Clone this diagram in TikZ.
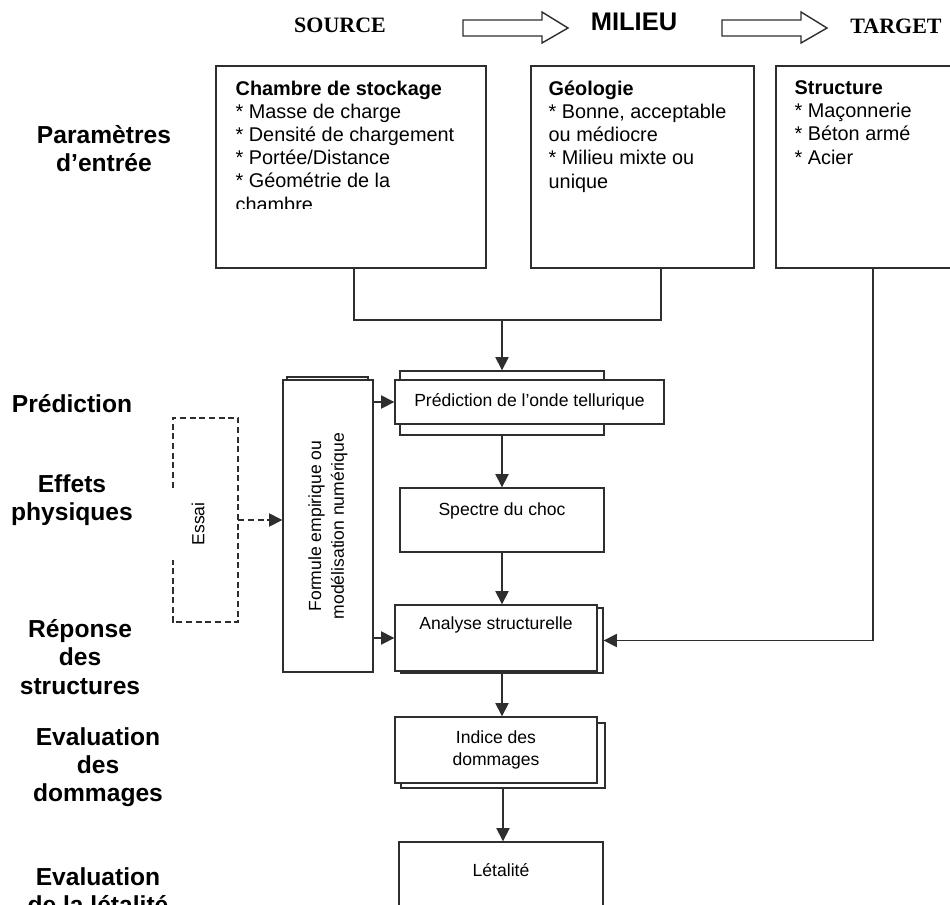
\documentclass[tikz,border=0pt]{standalone}
\usepackage{fontspec}
\setmainfont{Liberation Sans}
\newfontfamily\headserif{Liberation Serif}
\usetikzlibrary{arrows.meta,calc,positioning}
\colorlet{flowLine}{black!82}
\tikzset{
  flowbox/.style={
    rectangle, draw=flowLine, fill=white, line width=0.8pt,
    align=center, font=\fontsize{10}{12.5}\selectfont, inner sep=2pt
  },
  flowtop/.style={
    rectangle, draw=flowLine, fill=white, line width=0.8pt
  },
  flowlist/.style={
    anchor=north west, align=left, inner sep=0pt,
    font=\fontsize{11.3}{13.2}\selectfont
  },
  flowstage/.style={align=center, font=\bfseries\fontsize{14}{16}\selectfont},
  flowhead/.style={font=\bfseries\fontsize{12.5}{14}\selectfont},
  flowarrow/.style={-{Triangle[length=7.5pt,width=7.5pt]}, line width=0.8pt, draw=flowLine},
  flowdash/.style={flowarrow, dash pattern=on 3.5pt off 2pt},
  flowblock/.style={draw=flowLine, line width=0.8pt, fill=white}
}

\begin{document}
\begin{tikzpicture}[x=0.02cm,y=-0.02cm]
  \useasboundingbox (0,0) rectangle (950,904);

  % column heads
  \node[flowhead] (source) at (340,25) {\headserif SOURCE};
  \node[font=\bfseries\fontsize{14.5}{16}\selectfont] (milieu) at (634,22) {MILIEU};
  \node[flowhead] (target) at (896,26) {\headserif TARGET};
  \draw[flowblock] (463,20) -- (542,20) -- (542,12) -- (568,28) -- (542,43) -- (542,36) -- (463,36) -- cycle;
  \draw[flowblock] (722,20) -- (801,20) -- (801,12) -- (827,28) -- (801,43) -- (801,36) -- (722,36) -- cycle;

  % input boxes
  \node[flowtop, minimum width=5.4cm, minimum height=4.04cm] (src) at (351,167) {};
  \node[flowtop, minimum width=4.46cm, minimum height=4.04cm] (mil) at (642.5,167) {};
  \node[flowtop, minimum width=3.88cm, minimum height=4.04cm] (tgt) at (873,167) {};
  \begin{scope}
    \clip (216,66) rectangle (486,208);
    \node[flowlist] (srclist) at ([shift={(20,15)}]src.north west)
      {\textbf{Chambre de stockage}\\* Masse de charge\\* Densité de chargement\\%
       * Portée/Distance\\* Géométrie de la\\chambre};
  \end{scope}
  \node[flowlist] (millist) at ([shift={(18,15)}]mil.north west)
    {\textbf{Géologie}\\* Bonne, acceptable\\ou médiocre\\* Milieu mixte ou\\unique};
  \node[flowlist] (tgtlist) at ([shift={(19,15)}]tgt.north west)
    {\textbf{Structure}\\* Maçonnerie\\* Béton armé\\* Acier};

  % stage labels
  \node[flowstage] (stparam) at (104,149) {Paramètres\\d’entrée};
  \node[flowstage] (stpred) at (72,404) {Prédiction};
  \node[flowstage] (steff) at (72,500) {Effets\\physiques};
  \node[flowstage] (strep) at (80,657) {Réponse\\des\\structures};
  \node[flowstage] (stdom) at (98,767) {Evaluation\\des\\dommages};
  \node[flowstage] (stlet) at (98,891) {Evaluation\\de la létalité};

  % chain
  \node[flowbox, minimum width=4.08cm, minimum height=1.28cm] (predb) at (502,403) {};
  \node[flowbox, minimum width=5.38cm, minimum height=0.88cm] (pred) at (529.5,402)
    {Prédiction de l’onde tellurique};
  \node[flowbox, minimum width=4.08cm, minimum height=1.28cm, text depth=12pt] (spec) at (502,520)
    {Spectre du choc};
  \node[flowbox, minimum width=4.04cm, minimum height=1.3cm] (anab) at (502,640.5) {};
  \node[flowbox, minimum width=4.04cm, minimum height=1.32cm, text depth=17pt] (ana) at (496,638)
    {Analyse structurelle};
  \node[flowbox, minimum width=4.08cm, minimum height=1.3cm] (indb) at (503,755.5) {};
  \node[flowbox, minimum width=4.04cm, minimum height=1.32cm] (ind) at (496,750)
    {Indice des\\dommages};
  \node[flowbox, minimum width=4.08cm, minimum height=1.28cm, text depth=4.6pt] (letal) at (501,874)
    {Létalité};

  % model and test boxes
  \node[flowbox, minimum width=1.62cm, minimum height=5.66cm] (formb) at (327.5,518.5) {};
  \node[flowbox, rotate=90, minimum width=5.84cm, minimum height=1.8cm,
        font=\fontsize{10}{13}\selectfont] (form) at (328,526)
    {Formule empirique ou\\modélisation numérique};
  \node[minimum width=1.3cm, minimum height=4.08cm, inner sep=0pt] (essai) at (205.5,520) {};
  \node[rotate=90, font=\fontsize{10}{12}\selectfont] (essaitxt) at (198,524) {Essai};
  \draw[draw=flowLine, line width=1.1pt, dash pattern=on 3.5pt off 2pt]
    ([yshift=-1.4cm]essai.north west) |- (essai.north east) |- (essai.south west)
    -- ++(0,-62);

  % connectors
  \coordinate (join) at (502,320);
  \draw[draw=flowLine, line width=0.8pt] ([xshift=0.06cm]src.south) |- (join) -| ([xshift=0.37cm]mil.south);
  \draw[flowarrow] (join) -- (predb.north);
  \draw[flowarrow] (predb.south) -- (spec.north);
  \draw[flowarrow] (spec.south) -- (spec.south |- ana.north);
  \draw[flowarrow] (ana.south -| spec.south) -- (ind.north -| spec.south);
  \draw[flowarrow] (indb.south) -- (indb.south |- letal.north);
  \draw[flowarrow] (tgt.south) |- (anab.east);
  \draw[flowarrow] (pred.west -| form.south) -- (pred.west);
  \draw[flowarrow] (ana.west -| form.south) -- (ana.west);
  \draw[flowdash] (essai.east) -- (essai.east -| form.north);
\end{tikzpicture}
\end{document}
